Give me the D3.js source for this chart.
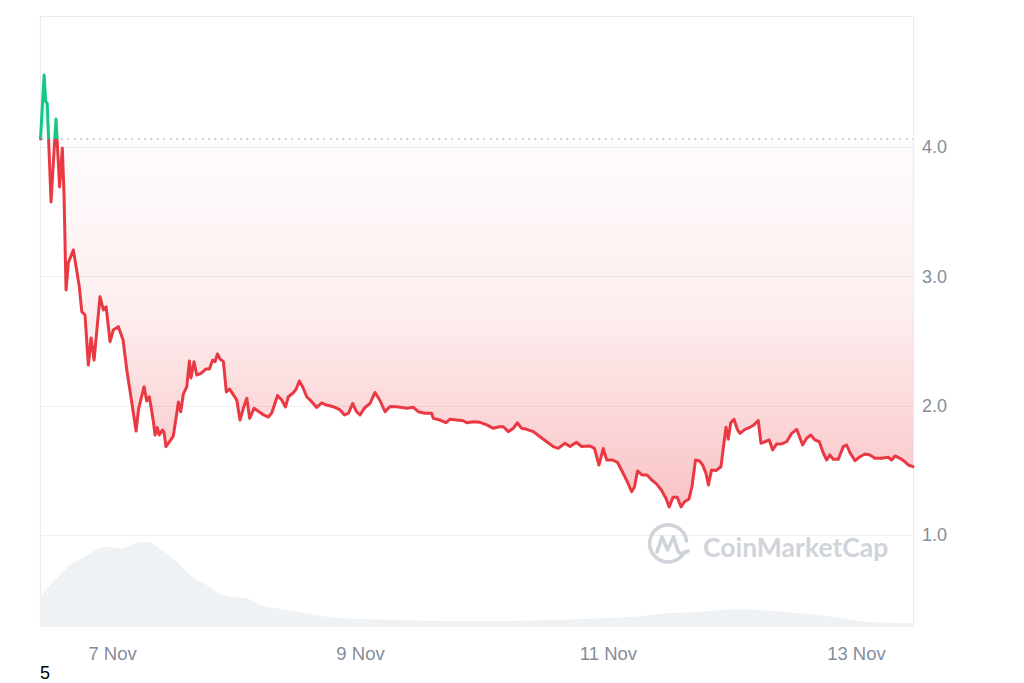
<!DOCTYPE html>
<html>
<head>
<meta charset="utf-8">
<script src="https://cdn.jsdelivr.net/npm/d3@7"></script>
<style>
html,body{margin:0;padding:0;background:#fff;}
svg{display:block;font-family:"Liberation Sans",Arial,sans-serif;}
</style>
</head>
<body>
<svg id="chart" width="1024" height="683"></svg>
<script>
// ---- data (day of November 2023, decimal) ----
const days = [6.423,6.452,6.465,6.477,6.508,6.548,6.577,6.599,6.613,6.629,6.647,6.688,6.710,6.736,6.756,6.782,6.809,6.831,6.855,6.903,6.930,6.952,6.984,7.010,7.051,7.089,7.119,7.140,7.159,7.172,7.194,7.214,7.258,7.280,7.301,7.333,7.347,7.365,7.381,7.407,7.419,7.435,7.468,7.494,7.524,7.535,7.554,7.575,7.603,7.624,7.637,7.661,7.683,7.718,7.758,7.785,7.812,7.831,7.850,7.871,7.898,7.922,7.948,7.979,8.006,8.032,8.063,8.087,8.110,8.145,8.185,8.222,8.261,8.288,8.335,8.369,8.399,8.422,8.462,8.484,8.511,8.538,8.570,8.610,8.651,8.691,8.731,8.785,8.839,8.875,8.907,8.941,8.968,9.000,9.036,9.081,9.121,9.161,9.202,9.242,9.296,9.377,9.430,9.470,9.524,9.578,9.591,9.645,9.694,9.726,9.780,9.833,9.861,9.914,9.968,10.022,10.075,10.124,10.156,10.196,10.236,10.269,10.304,10.344,10.398,10.452,10.506,10.559,10.599,10.653,10.694,10.745,10.788,10.855,10.891,10.927,10.962,10.990,11.036,11.077,11.117,11.157,11.191,11.214,11.238,11.274,11.315,11.353,11.393,11.433,11.468,11.494,11.524,11.559,11.589,11.617,11.653,11.677,11.706,11.738,11.764,11.790,11.810,11.835,11.871,11.911,11.935,11.952,11.970,11.990,12.016,12.043,12.065,12.105,12.145,12.177,12.212,12.234,12.266,12.301,12.328,12.360,12.401,12.441,12.482,12.522,12.570,12.602,12.635,12.669,12.704,12.737,12.764,12.790,12.817,12.857,12.898,12.925,12.952,12.992,13.032,13.073,13.113,13.153,13.207,13.260,13.288,13.315,13.355,13.395,13.422,13.460];
const prices = [4.062,4.557,4.350,4.340,3.575,4.217,3.691,3.992,3.621,2.894,3.103,3.204,3.075,2.920,2.727,2.701,2.314,2.523,2.353,2.843,2.740,2.765,2.495,2.585,2.611,2.508,2.276,2.147,2.028,1.943,1.804,1.974,2.147,2.036,2.069,1.881,1.773,1.831,1.773,1.812,1.796,1.683,1.727,1.765,1.953,2.028,1.953,2.090,2.147,2.345,2.214,2.340,2.237,2.250,2.284,2.284,2.353,2.340,2.400,2.361,2.340,2.106,2.129,2.083,2.044,1.889,1.992,2.057,1.902,1.980,1.953,1.928,1.912,1.943,2.079,2.044,1.990,2.069,2.100,2.127,2.191,2.144,2.069,2.031,1.986,2.021,2.005,1.992,1.967,1.928,1.943,2.017,1.959,1.928,1.982,2.018,2.102,2.040,1.953,1.994,1.992,1.980,1.987,1.953,1.941,1.941,1.902,1.889,1.868,1.895,1.889,1.884,1.868,1.876,1.871,1.851,1.825,1.837,1.837,1.799,1.825,1.868,1.825,1.817,1.799,1.760,1.721,1.683,1.670,1.709,1.684,1.717,1.684,1.688,1.670,1.541,1.669,1.580,1.580,1.561,1.487,1.410,1.335,1.373,1.495,1.464,1.464,1.425,1.394,1.344,1.282,1.217,1.292,1.292,1.217,1.257,1.278,1.373,1.580,1.572,1.541,1.477,1.387,1.503,1.499,1.528,1.709,1.833,1.740,1.868,1.895,1.817,1.786,1.817,1.833,1.851,1.884,1.709,1.721,1.735,1.657,1.704,1.704,1.721,1.786,1.817,1.696,1.748,1.773,1.735,1.721,1.632,1.580,1.619,1.585,1.585,1.683,1.696,1.636,1.575,1.605,1.626,1.619,1.593,1.593,1.601,1.580,1.611,1.593,1.567,1.541,1.528];
const openPrice = 4.062;

const volDays = [6.419,6.500,6.581,6.661,6.742,6.823,6.903,6.984,7.065,7.119,7.199,7.293,7.360,7.441,7.522,7.603,7.684,7.764,7.871,7.952,8.087,8.194,8.329,8.490,8.652,8.758,9.000,9.323,9.726,10.129,10.532,10.935,11.202,11.476,11.742,12.065,12.411,12.815,13.089,13.460];
const volumes = [30.3,42,52,62,67.7,73.7,78.7,80.3,78.7,80.3,84.3,85.3,80.3,73.7,65.3,55.3,47,42,33,30.3,28.7,22,18.7,15.3,12,9.7,8,7,6,6,7,8.7,10.3,13.7,15.3,17.7,15.3,10.3,5.3,3.7];

const yTicks = [1, 2, 3, 4];
const yTickLabels = ["1.0", "2.0", "3.0", "4.0"];
const xTickDays = [7, 9, 11, 13];
const xTickLabels = ["7 Nov", "9 Nov", "11 Nov", "13 Nov"];
const domainDays = [6.419, 13.460];

// ---- helpers ----
const toDate = d => new Date(Date.UTC(2023, 10, 1) + (d - 1) * 864e5);
const priceData = days.map((d, i) => ({t: toDate(d), v: prices[i]}));
const volData = volDays.map((d, i) => ({t: toDate(d), v: volumes[i]}));

const L = 40, R = 913, T = 16, B = 627;
const x = d3.scaleTime().domain(domainDays.map(toDate)).range([L, R]);
const y = d3.scaleLinear().domain([1, 4]).range([535, 147]);
const yv = d3.scaleLinear().domain([0, 100]).range([B, B - 100]);

const RED = "#ea3943", GREEN = "#16c784";
const svg = d3.select("#chart");
const defs = svg.append("defs");

const baseY = y(openPrice);
const minY = y(d3.min(prices));
const maxY = y(d3.max(prices));

// stroke gradient (green above open, red below)
const sg = defs.append("linearGradient").attr("id", "strokeGrad")
  .attr("gradientUnits", "userSpaceOnUse").attr("x1", 0).attr("x2", 0)
  .attr("y1", maxY).attr("y2", minY);
const split = (baseY - maxY) / (minY - maxY);
sg.append("stop").attr("offset", 0).attr("stop-color", GREEN);
sg.append("stop").attr("offset", split).attr("stop-color", GREEN);
sg.append("stop").attr("offset", split).attr("stop-color", RED);
sg.append("stop").attr("offset", 1).attr("stop-color", RED);

const rg = defs.append("linearGradient").attr("id", "redFill")
  .attr("gradientUnits", "userSpaceOnUse").attr("x1", 0).attr("x2", 0)
  .attr("y1", baseY).attr("y2", minY);
rg.append("stop").attr("offset", 0).attr("stop-color", RED).attr("stop-opacity", 0.015);
rg.append("stop").attr("offset", 0.45).attr("stop-color", RED).attr("stop-opacity", 0.08);
rg.append("stop").attr("offset", 1).attr("stop-color", RED).attr("stop-opacity", 0.3);

const gg = defs.append("linearGradient").attr("id", "greenFill")
  .attr("gradientUnits", "userSpaceOnUse").attr("x1", 0).attr("x2", 0)
  .attr("y1", maxY).attr("y2", baseY);
gg.append("stop").attr("offset", 0).attr("stop-color", GREEN).attr("stop-opacity", 0.25);
gg.append("stop").attr("offset", 1).attr("stop-color", GREEN).attr("stop-opacity", 0.03);

// ---- grid ----
svg.append("g").selectAll("line").data(yTicks).join("line")
  .attr("x1", L).attr("x2", R)
  .attr("y1", d => Math.round(y(d)) + 0.5).attr("y2", d => Math.round(y(d)) + 0.5)
  .attr("stroke", "#eceef1").attr("stroke-width", 1);

// frame
svg.append("path")
  .attr("d", `M${L + 0.5},${B}V${T + 0.5}H${R + 0.5}V${B}`)
  .attr("fill", "none").attr("stroke", "#eaecef").attr("stroke-width", 1.2);

// ---- volume ----
svg.append("path").datum(volData)
  .attr("d", d3.area().x(d => x(d.t)).y0(yv(0)).y1(d => yv(d.v)).curve(d3.curveMonotoneX))
  .attr("fill", "#eff2f5");

// ---- watermark ----
const wm = svg.append("g").attr("fill", "none").attr("stroke", "#cfd4db").attr("stroke-width", 3.6)
  .attr("stroke-linecap", "round").attr("stroke-linejoin", "round");
wm.append("path").attr("d", "M684.5,552 A18.5,18.5 0 1 1 686.5,541");
wm.append("path").attr("d", "M657,552 L662,537 L667.5,550 L673.5,537 L678,551 Q681,556 688,551");
svg.append("text").attr("x", 703).attr("y", 556.5)
  .attr("font-family", "Lato, 'Open Sans', sans-serif").attr("font-weight", 700)
  .attr("font-size", 26.5).attr("fill", "#cfd4db").text("CoinMarketCap");

// ---- price areas ----
svg.append("path").datum(priceData)
  .attr("d", d3.area().x(d => x(d.t)).y0(baseY).y1(d => y(Math.min(d.v, openPrice))))
  .attr("fill", "url(#redFill)");
svg.append("path").datum(priceData)
  .attr("d", d3.area().x(d => x(d.t)).y0(baseY).y1(d => y(Math.max(d.v, openPrice))))
  .attr("fill", "url(#greenFill)");

// reference (open) line
svg.append("line").attr("x1", L + 2).attr("x2", R).attr("y1", baseY).attr("y2", baseY)
  .attr("stroke", "#a6acb6").attr("stroke-width", 1.4).attr("stroke-dasharray", "1.4,5");

// price line
svg.append("path").datum(priceData)
  .attr("d", d3.line().x(d => x(d.t)).y(d => y(d.v)))
  .attr("fill", "none").attr("stroke", "url(#strokeGrad)").attr("stroke-width", 3)
  .attr("stroke-linejoin", "round").attr("stroke-linecap", "round");

// ---- axes ----
const yAxis = d3.axisRight(y).tickValues(yTicks).tickSize(0).tickPadding(0)
  .tickFormat((d, i) => yTickLabels[i]);
const gy = svg.append("g").attr("transform", `translate(${R + 9},0)`).call(yAxis);
gy.select(".domain").remove();
gy.selectAll("text").attr("font-size", 18).attr("fill", "#858d9c")
  .attr("font-family", "'Liberation Sans', Arial, sans-serif");

const xAxis = d3.axisBottom(x).tickValues(xTickDays.map(toDate)).tickSize(0).tickPadding(0)
  .tickFormat((d, i) => xTickLabels[i]);
const gx = svg.append("g").attr("transform", `translate(0,647)`).call(xAxis);
gx.select(".domain").remove();
gx.selectAll("text").attr("font-size", 18.5).attr("fill", "#858d9c")
  .attr("font-family", "'Liberation Sans', Arial, sans-serif");

// stray caption
svg.append("text").attr("x", 40).attr("y", 679).attr("font-size", 18)
  .attr("fill", "#000").attr("font-family", "'Liberation Sans', Arial, sans-serif").text("5");
</script>
</body>
</html>
